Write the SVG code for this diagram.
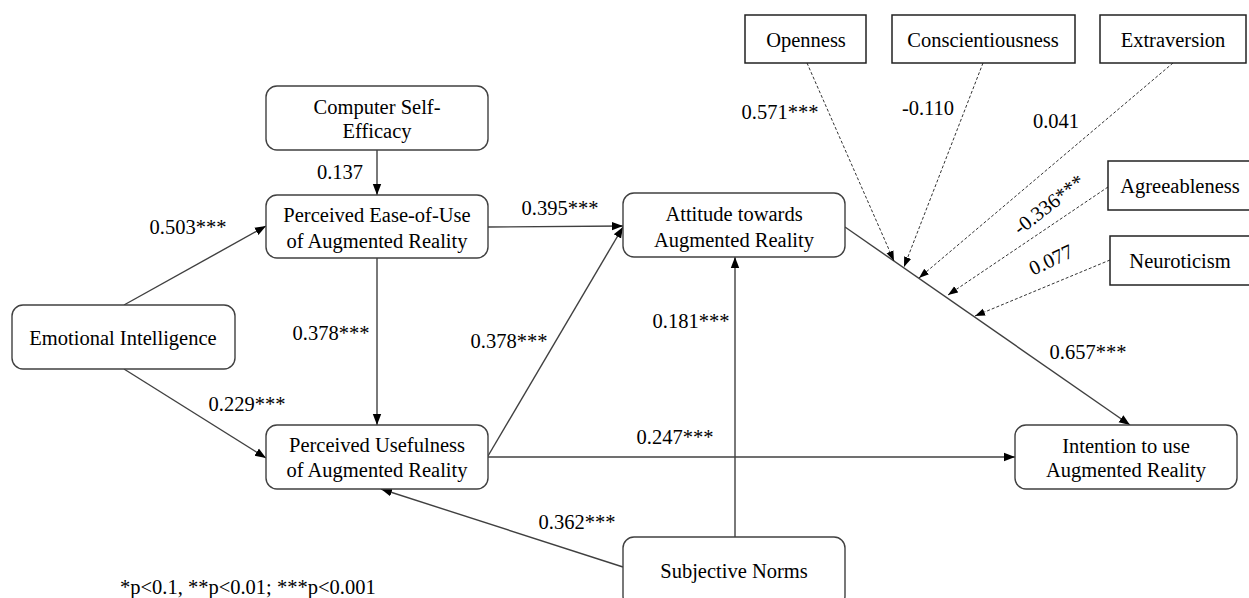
<svg xmlns="http://www.w3.org/2000/svg" width="1249" height="598" viewBox="0 0 1249 598">
<defs>
<marker id="ah" markerUnits="userSpaceOnUse" markerWidth="12" markerHeight="10" refX="11" refY="5" orient="auto">
<path d="M0,0.8 L11,5 L0,9.2 Z" fill="#000"/>
</marker>
<marker id="ahs" markerUnits="userSpaceOnUse" markerWidth="11" markerHeight="9" refX="10" refY="4.5" orient="auto">
<path d="M0,0.8 L10,4.5 L0,8.2 Z" fill="#000"/>
</marker>
</defs>
<style>
text{font-family:"Liberation Serif","Times New Roman",serif;font-size:20.5px;fill:#000;}
.n{text-anchor:middle;}
.box{fill:#fff;stroke:#404040;stroke-width:1.4;}
.tbox{fill:#fff;stroke:#222;stroke-width:1.5;}
.c{stroke:#404040;stroke-width:1.4;fill:none;marker-end:url(#ah);}
.d{stroke:#333;stroke-width:1;stroke-dasharray:3,2;fill:none;marker-end:url(#ahs);}
</style>
<rect width="1249" height="598" fill="#fff"/>
<g id="connectors">
<line class="c" x1="377" y1="150" x2="377" y2="195"/>
<line class="c" x1="124" y1="305" x2="266" y2="226"/>
<line class="c" x1="124" y1="369" x2="266" y2="458"/>
<line class="c" x1="377" y1="258" x2="377" y2="425"/>
<line class="c" x1="488" y1="227" x2="623" y2="226"/>
<line class="c" x1="488" y1="456" x2="623" y2="227"/>
<line class="c" x1="488" y1="457" x2="1015" y2="457"/>
<line class="c" x1="735" y1="537" x2="735" y2="257"/>
<line class="c" x1="623" y1="567" x2="381" y2="489"/>
<line class="c" x1="845" y1="227" x2="1130" y2="425"/>
<line class="d" x1="807" y1="63" x2="894" y2="261"/>
<line class="d" x1="983" y1="63" x2="904" y2="267"/>
<line class="d" x1="1173" y1="63" x2="919" y2="278"/>
<line class="d" x1="1108" y1="187" x2="948" y2="295"/>
<line class="d" x1="1110" y1="260" x2="975" y2="316"/>
</g>
<g id="labels">
<text class="n" x="340" y="179">0.137</text>
<text class="n" x="188" y="234">0.503***</text>
<text class="n" x="247" y="411">0.229***</text>
<text class="n" x="331" y="340">0.378***</text>
<text class="n" x="560" y="215">0.395***</text>
<text class="n" x="509" y="348">0.378***</text>
<text class="n" x="675" y="444">0.247***</text>
<text class="n" x="691" y="328">0.181***</text>
<text class="n" x="577" y="529">0.362***</text>
<text class="n" x="1088" y="359">0.657***</text>
<text class="n" x="780" y="119">0.571***</text>
<text class="n" x="928" y="115">-0.110</text>
<text class="n" x="1056" y="128">0.041</text>
<text class="n" transform="translate(1053,210) rotate(-38)">-0.336***</text>
<text class="n" transform="translate(1054,266) rotate(-25)">0.077</text>
<text x="120" y="594">*p&lt;0.1, **p&lt;0.01; ***p&lt;0.001</text>
</g>
<g id="cse"><rect class="box" x="266" y="86" width="222" height="64" rx="11"/><text class="n" x="377" y="114">Computer Self-</text><text class="n" x="377" y="138">Efficacy</text></g>
<g id="peou"><rect class="box" x="266" y="195" width="222" height="63" rx="11"/><text class="n" x="377" y="222">Perceived  Ease-of-Use</text><text class="n" x="377" y="248">of Augmented  Reality</text></g>
<g id="ei"><rect class="box" x="12" y="305" width="223" height="64" rx="11"/><text class="n" x="123" y="345">Emotional Intelligence</text></g>
<g id="pu"><rect class="box" x="266" y="425" width="222" height="64" rx="11"/><text class="n" x="377" y="452">Perceived  Usefulness</text><text class="n" x="377" y="477">of Augmented  Reality</text></g>
<g id="att"><rect class="box" x="623" y="193" width="222" height="64" rx="11"/><text class="n" x="734" y="221">Attitude towards</text><text class="n" x="734" y="247">Augmented  Reality</text></g>
<g id="sn"><rect class="box" x="623" y="537" width="222" height="70" rx="11"/><text class="n" x="734" y="578">Subjective  Norms</text></g>
<g id="int"><rect class="box" x="1015" y="425" width="222" height="64" rx="11"/><text class="n" x="1126" y="453">Intention  to use</text><text class="n" x="1126" y="477">Augmented  Reality</text></g>
<g id="open"><rect class="tbox" x="745" y="15" width="121" height="48"/><text class="n" x="806" y="47">Openness</text></g>
<g id="cons"><rect class="tbox" x="892" y="15" width="183" height="48"/><text class="n" x="983" y="47">Conscientiousness</text></g>
<g id="extr"><rect class="tbox" x="1100" y="15" width="146" height="48"/><text class="n" x="1173" y="47">Extraversion</text></g>
<g id="agre"><rect class="tbox" x="1108" y="161" width="145" height="49"/><text class="n" x="1180" y="193">Agreeableness</text></g>
<g id="neur"><rect class="tbox" x="1110" y="236" width="143" height="49"/><text class="n" x="1180" y="268">Neuroticism</text></g>
</svg>
